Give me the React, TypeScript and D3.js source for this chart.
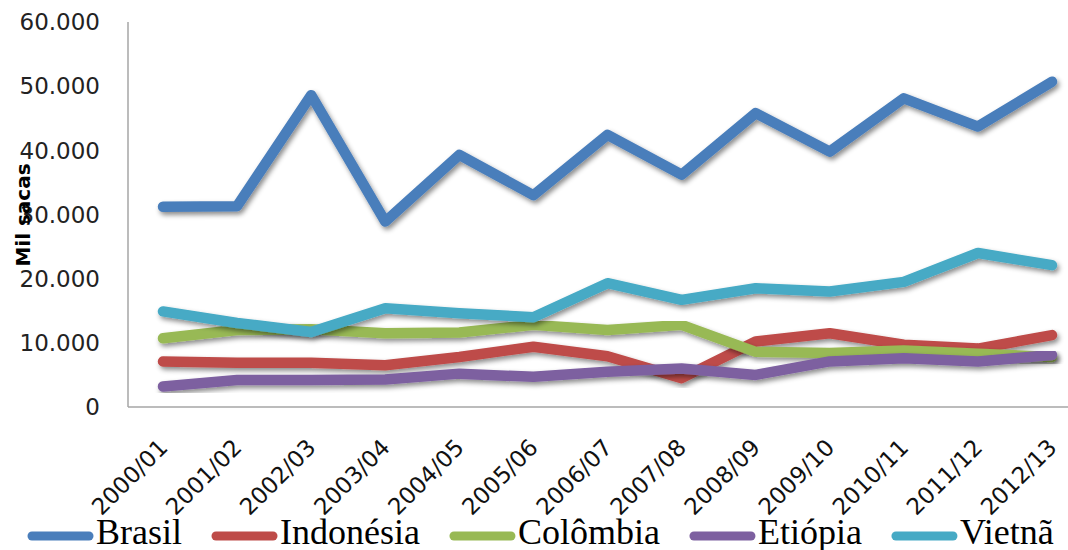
import React, { useEffect, useRef } from "react";
import * as d3 from "d3";

const safras = [
  "2000/01", "2001/02", "2002/03", "2003/04", "2004/05", "2005/06", "2006/07",
  "2007/08", "2008/09", "2009/10", "2010/11", "2011/12", "2012/13",
];
const brasil = [31200, 31300, 48600, 28900, 39300, 33000, 42400, 36200, 45800, 39800, 48100, 43700, 50700];
const indonesia = [7100, 6900, 6900, 6500, 7800, 9400, 7900, 4500, 10200, 11500, 9700, 9100, 11200];
const colombia = [10700, 12000, 12100, 11500, 11600, 12800, 12000, 12800, 8600, 8400, 8800, 8300, 7800];
const etiopia = [3200, 4200, 4200, 4300, 5200, 4700, 5500, 6000, 5000, 7100, 7600, 7100, 8100];
const vietna = [14900, 13100, 11700, 15400, 14600, 14000, 19300, 16700, 18500, 18000, 19500, 24000, 22100];
const yTicks = [0, 10000, 20000, 30000, 40000, 50000, 60000];

const series = [
  { name: "Brasil", values: brasil, color: "#4a7ebb" },
  { name: "Indonésia", values: indonesia, color: "#be4b48" },
  { name: "Colômbia", values: colombia, color: "#98b954" },
  { name: "Etiópia", values: etiopia, color: "#7d60a0" },
  { name: "Vietnã", values: vietna, color: "#46aac5" },
];

const W = 1068;
const H = 550;

export default function App() {
  const ref = useRef<SVGSVGElement>(null);

  useEffect(() => {
    const svg = d3.select(ref.current);
    svg.selectAll("*").remove();

    const x = d3.scalePoint().domain(safras).range([163, 1052]);
    const y = d3.scaleLinear().domain([0, 60000]).range([407, 22]);
    const br = d3.formatLocale({ decimal: ",", thousands: ".", grouping: [3], currency: ["", ""] });
    const fmt = br.format(",");

    const defs = svg.append("defs");
    const f = defs.append("filter").attr("id", "sombra")
      .attr("x", "-10%").attr("y", "-10%").attr("width", "120%").attr("height", "130%");
    f.append("feDropShadow").attr("dx", 2).attr("dy", 3).attr("stdDeviation", 2.5)
      .attr("flood-color", "#000").attr("flood-opacity", 0.45);

    // axes
    svg.append("line").attr("x1", 128).attr("x2", 128).attr("y1", 22).attr("y2", 407)
      .attr("stroke", "#a6a6a6").attr("stroke-width", 1.5);
    svg.append("line").attr("x1", 128).attr("x2", W).attr("y1", 407).attr("y2", 407)
      .attr("stroke", "#a6a6a6").attr("stroke-width", 1.5);

    svg.append("g").selectAll("text").data(yTicks).join("text")
      .attr("x", 100).attr("y", (d) => y(d)).attr("dy", "0.36em")
      .attr("text-anchor", "end").attr("font-family", "DejaVu Sans").attr("font-size", 23)
      .attr("fill", "#222").text((d) => fmt(d));

    svg.append("text").attr("transform", "translate(30,215) rotate(-90)")
      .attr("text-anchor", "middle").attr("font-family", "DejaVu Sans").attr("font-size", 20)
      .attr("font-weight", "bold").attr("fill", "#000").text("Mil sacas");

    svg.append("g").selectAll("text").data(safras).join("text")
      .attr("transform", (d) => `translate(${(x(d) as number) + 6},${449}) rotate(-45)`)
      .attr("text-anchor", "end").attr("font-family", "DejaVu Sans").attr("font-size", 23)
      .attr("fill", "#111").text((d) => d);

    const line = d3.line<number>().x((_, i) => x(safras[i]) as number).y((d) => y(d));

    svg.append("g").selectAll("path").data(series).join("path")
      .attr("d", (s) => line(s.values))
      .attr("fill", "none").attr("stroke", (s) => s.color).attr("stroke-width", 10.5)
      .attr("stroke-linecap", "round").attr("stroke-linejoin", "round")
      .attr("filter", "url(#sombra)");

    // legend
    const leg = svg.append("g");
    let cx = 28;
    series.forEach((s) => {
      leg.append("line").attr("x1", cx + 4).attr("x2", cx + 61).attr("y1", 536).attr("y2", 536)
        .attr("stroke", s.color).attr("stroke-width", 9).attr("stroke-linecap", "round");
      const t = leg.append("text").attr("x", cx + 68).attr("y", 544)
        .attr("font-family", "Liberation Serif").attr("font-size", 36).attr("fill", "#000")
        .text(s.name);
      const w = (t.node() as SVGTextElement).getComputedTextLength();
      cx += 68 + w + 30;
    });
  }, []);

  return (
    <svg ref={ref} width={W} height={H}
      style={{ position: "absolute", left: 0, top: 0, background: "#fff" }} />
  );
}
